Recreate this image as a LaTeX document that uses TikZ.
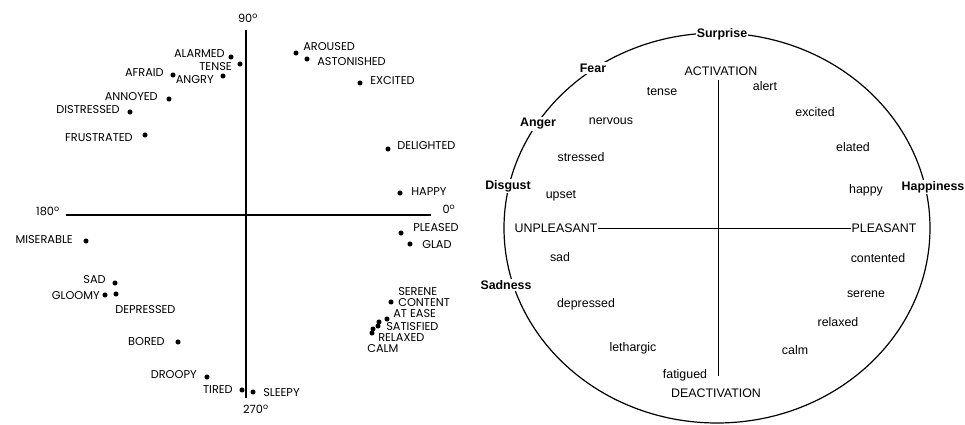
\documentclass[tikz,border=0pt]{standalone}
\usepackage{fontspec}
\setmainfont{Liberation Sans}
\newfontfamily\circfont{Poppins}
\usepackage{tikz}
\usetikzlibrary{positioning}
\tikzset{
  pt/.style={circle,fill=black,inner sep=0pt,minimum size=3.8pt},
  wl/.style={inner sep=0pt,font=\circfont\fontsize{8.5}{9}\selectfont},
  wr/.style={inner sep=0pt,font=\fontsize{9.3}{10}\selectfont},
  emo/.style={inner sep=1pt,fill=white,font=\bfseries\fontsize{9.3}{10}\selectfont},
}

\begin{document}
\begin{tikzpicture}[x=0.75pt,y=-0.75pt]
\useasboundingbox (0,0) rectangle (965,425);
\coordinate (top) at (246,30);
\coordinate (bot) at (246,398);
\coordinate (lft) at (66,215);
\coordinate (rgt) at (431,215);
\draw[line width=1.7pt] (top) -- (bot);
\draw[line width=1.7pt] (lft) -- (rgt);
\node[wl] (d90) at (248,18) {90\textsuperscript{o}};
\node[wl] (d180) at (48,211) {180\textsuperscript{o}};
\node[wl] (d0) at (449,209) {0\textsuperscript{o}};
\node[wl] (d270) at (256,409) {270\textsuperscript{o}};
\foreach \n/\x/\y in {alarmed/231/57,tense/240/64,afraid/173/75,angry/223/76,
    annoyed/169/99,distressed/130/112,frustrated/145/135,aroused/296/53,
    astonished/307/59,excited/360/83,delighted/388/149,happy/400/193,
    pleased/401/233,glad/410/244,miserable/86/241,sad/115/283,gloomy/105/295,
    depressed/116/294,bored/178/342,droopy/207/377,tired/242/390,sleepy/253/392,
    content/391/302,atease/387/319,satisfied/379/322,satisfiedb/378/326,
    relaxed/373/329,calm/372/333}
  \node[pt] (\n) at (\x,\y) {};
\node[wl,anchor=east] (lalarmed) at (225,54) {ALARMED};
\node[wl,anchor=east] (ltense) at (232,67) {TENSE};
\node[wl,anchor=east] (lafraid) at (164,73) {AFRAID};
\node[wl,anchor=east] (langry) at (214,80) {ANGRY};
\node[wl,anchor=east] (lannoyed) at (158,97) {ANNOYED};
\node[wl,anchor=east] (ldistressed) at (120,110) {DISTRESSED};
\node[wl,anchor=east] (lfrustrated) at (133,138) {FRUSTRATED};
\node[wl,anchor=west] (laroused) at (303,47) {AROUSED};
\node[wl,anchor=west] (lastonished) at (317,62) {ASTONISHED};
\node[wl,anchor=west] (lexcited) at (370,81) {EXCITED};
\node[wl,anchor=west] (ldelighted) at (397,146) {DELIGHTED};
\node[wl,anchor=west] (lhappy) at (411,192) {HAPPY};
\node[wl,anchor=west] (lpleased) at (413,228) {PLEASED};
\node[wl,anchor=west] (lglad) at (422,245) {GLAD};
\node[wl,anchor=east] (lmiserable) at (73,240) {MISERABLE};
\node[wl,anchor=east] (lsad) at (106,280) {SAD};
\node[wl,anchor=east] (lgloomy) at (100,296) {GLOOMY};
\node[wl,anchor=west] (ldepressed) at (115,310) {DEPRESSED};
\node[wl,anchor=east] (lbored) at (165,342) {BORED};
\node[wl,anchor=east] (ldroopy) at (197,375) {DROOPY};
\node[wl,anchor=east] (ltired) at (233,390) {TIRED};
\node[wl,anchor=west] (lsleepy) at (263,393) {SLEEPY};
\node[wl,anchor=west] (lserene) at (398,292) {SERENE};
\node[wl,anchor=west] (lcontent) at (398,303) {CONTENT};
\node[wl,anchor=west] (latease) at (393,314) {AT EASE};
\node[wl,anchor=west] (lsatisfied) at (386,327) {SATISFIED};
\node[wl,anchor=west] (lrelaxed) at (378,338) {RELAXED};
\node[wl,anchor=west] (lcalm) at (367,349) {CALM};
\draw[line width=0.9pt] (717,228) ellipse [x radius=213, y radius=195];
\node[wr] (activ) at (721,71) {ACTIVATION};
\node[wr] (deact) at (716,393) {DEACTIVATION};
\node[wr] (unpl) at (556,228) {UNPLEASANT};
\node[wr] (pleas) at (884,228) {PLEASANT};
\draw[line width=0.6pt] ([shift={(-2pt,-3pt)}]activ.south) -- ([shift={(-2pt,9pt)}]activ.south |- deact.north);
\draw[line width=0.6pt] (unpl) -- (pleas);
\node[emo] (surprise) at (722,34) {Surprise};
\node[emo] (fear) at (593,68) {Fear};
\node[emo] (anger) at (538,124) {Anger};
\node[emo] (disgust) at (508,186) {Disgust};
\node[emo] (sadness) at (506,285) {Sadness};
\node[emo] (happiness) at (933,187) {Happiness};
\node[wr] (alert) at (765,86) {alert};
\node[wr] (rtense) at (662,92) {tense};
\node[wr] (nervous) at (611,121) {nervous};
\node[wr] (stressed) at (581,157) {stressed};
\node[wr] (upset) at (561,196) {upset};
\node[wr] (rexcited) at (815,112) {excited};
\node[wr] (elated) at (853,147) {elated};
\node[wr] (rhappy) at (866,190) {happy};
\node[wr] (rsad) at (560,257) {sad};
\node[wr] (rdepressed) at (586,304) {depressed};
\node[wr] (lethargic) at (633,348) {lethargic};
\node[wr] (fatigued) at (685,375) {fatigued};
\node[wr] (contented) at (878,258) {contented};
\node[wr] (rserene) at (866,294) {serene};
\node[wr] (rrelaxed) at (838,322) {relaxed};
\node[wr] (rcalm) at (795,350) {calm};
\end{tikzpicture}
\end{document}
